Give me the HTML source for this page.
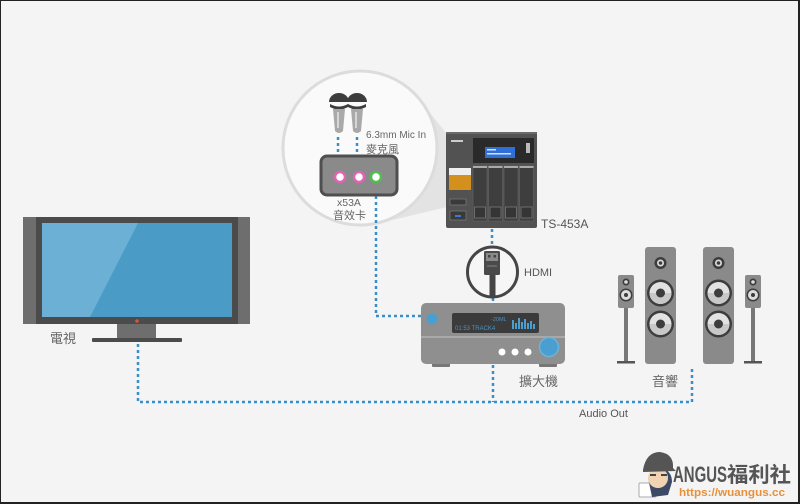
<!DOCTYPE html>
<html><head><meta charset="utf-8"><style>
html,body{margin:0;padding:0;background:#f4f4f4;}
svg{display:block;}
text{font-family:"Liberation Sans","Noto Sans CJK TC",sans-serif;}
</style></head><body>
<svg width="800" height="504" viewBox="0 0 800 504" xmlns="http://www.w3.org/2000/svg">
<rect x="0" y="0" width="800" height="504" fill="#f4f4f4"/>

<!-- lens wedge + circle -->
<polygon points="426,108 447,134 447,207 384,222" fill="#e3e3e3"/>
<circle cx="360" cy="148" r="77" fill="#fafafa" stroke="#dcdcdc" stroke-width="3"/>

<!-- dotted connectors -->
<g fill="none" stroke="#3a8fc6" stroke-width="2.5" stroke-dasharray="3 3">
  <path d="M138 344 V402 H692 V366"/>
  <path d="M493 365 V402"/>
  <path d="M376 184 V316 H426"/>
  <path d="M338 137 V157"/>
  <path d="M357 137 V157"/>
  <path d="M492 229 V246"/>
  <path d="M493 298 V303"/>
</g>

<!-- microphones -->
<g>
  <path d="M329 102 A10 9 0 0 1 349 102 Z" fill="#3d3d3d"/>
  <path d="M330 104 Q339 109 348 104 L348 107 Q339 112 330 107 Z" fill="#3d3d3d"/>
  <path d="M333 109 L345 109 L343 131 Q339 135 335 131 Z" fill="#a9a9a9"/>
  <rect x="337" y="112" width="2" height="16" fill="#d6d6d6"/>
  <path d="M347 102 A10 9 0 0 1 367 102 Z" fill="#3d3d3d"/>
  <path d="M348 104 Q357 109 366 104 L366 107 Q357 112 348 107 Z" fill="#3d3d3d"/>
  <path d="M351 109 L363 109 L361 131 Q357 135 353 131 Z" fill="#a9a9a9"/>
  <rect x="355" y="112" width="2" height="16" fill="#d6d6d6"/>
</g>

<!-- sound card -->
<rect x="321" y="156" width="76" height="39" rx="6" fill="#8a8a8a" stroke="#4f4f4f" stroke-width="3"/>
<circle cx="340" cy="177" r="5" fill="#fff" stroke="#e063b6" stroke-width="2.5"/>
<circle cx="359" cy="177" r="5" fill="#fff" stroke="#e063b6" stroke-width="2.5"/>
<circle cx="376" cy="177" r="5" fill="#fff" stroke="#4fc04f" stroke-width="2.5"/>

<text x="366" y="138" font-size="10" fill="#666">6.3mm Mic In</text>
<text x="366" y="153" font-size="11" fill="#666">麥克風</text>
<text x="337" y="206" font-size="10.5" fill="#666">x53A</text>
<text x="333" y="219" font-size="11" fill="#666">音效卡</text>

<!-- NAS -->
<rect x="446" y="132" width="91" height="96" rx="2" fill="#525252"/>
<rect x="446" y="132" width="91" height="2" fill="#6a6a6a"/>
<rect x="451" y="140" width="12" height="2" fill="#ccc"/>
<rect x="473" y="138" width="61" height="25" fill="#2a2a2a"/>
<rect x="485" y="147" width="30" height="11" fill="#2f6fd6"/>
<rect x="487" y="149" width="9" height="1.5" fill="#cfe0ff"/>
<rect x="487" y="153" width="24" height="1.5" fill="#cfe0ff"/>
<rect x="526" y="143" width="4" height="10" fill="#bbb"/>
<rect x="449" y="168" width="22" height="7" fill="#eee"/>
<rect x="449" y="175" width="22" height="15" fill="#d4901c"/>
<rect x="450" y="199" width="16" height="6" fill="#3a3a3a" stroke="#777" stroke-width="0.8"/>
<rect x="450" y="211" width="16" height="9" fill="#3a3a3a" stroke="#777" stroke-width="0.8"/>
<rect x="455" y="215" width="6" height="2" fill="#3a7ad0"/>
<g>
  <rect x="473" y="166" width="14" height="55" fill="#3e3e3e" stroke="#5e5e5e" stroke-width="0.8"/>
  <rect x="473" y="166" width="14" height="2" fill="#aaa"/>
  <rect x="474.5" y="207" width="11" height="11" fill="#353535" stroke="#7a7a7a" stroke-width="0.8"/>
  <rect x="488.5" y="166" width="14" height="55" fill="#3e3e3e" stroke="#5e5e5e" stroke-width="0.8"/>
  <rect x="488.5" y="166" width="14" height="2" fill="#aaa"/>
  <rect x="490" y="207" width="11" height="11" fill="#353535" stroke="#7a7a7a" stroke-width="0.8"/>
  <rect x="504" y="166" width="14" height="55" fill="#3e3e3e" stroke="#5e5e5e" stroke-width="0.8"/>
  <rect x="504" y="166" width="14" height="2" fill="#aaa"/>
  <rect x="505.5" y="207" width="11" height="11" fill="#353535" stroke="#7a7a7a" stroke-width="0.8"/>
  <rect x="519.5" y="166" width="14" height="55" fill="#3e3e3e" stroke="#5e5e5e" stroke-width="0.8"/>
  <rect x="519.5" y="166" width="14" height="2" fill="#aaa"/>
  <rect x="521" y="207" width="11" height="11" fill="#353535" stroke="#7a7a7a" stroke-width="0.8"/>
</g>
<text x="541" y="228" font-size="12" fill="#555">TS-453A</text>

<!-- HDMI -->
<circle cx="492.5" cy="272" r="25" fill="#f6f6f6" stroke="#454545" stroke-width="3"/>
<rect x="489.5" y="273" width="6" height="25" fill="#454545"/>
<rect x="484" y="251" width="16" height="24" rx="1.5" fill="#4a4a4a"/>
<rect x="486" y="253" width="12" height="8" fill="#8a8a8a"/>
<rect x="488" y="255" width="2.5" height="2.5" fill="#444"/>
<rect x="493.5" y="255" width="2.5" height="2.5" fill="#444"/>
<rect x="487" y="265" width="10" height="2" fill="#666"/>
<text x="524" y="276" font-size="11" fill="#555">HDMI</text>

<!-- receiver -->
<rect x="432" y="362" width="18" height="5" rx="1" fill="#777"/>
<rect x="539" y="362" width="18" height="5" rx="1" fill="#777"/>
<rect x="421" y="303" width="144" height="61" rx="5" fill="#8f8f8f"/>
<rect x="421" y="336" width="144" height="2" fill="#a9a9a9"/>
<circle cx="432" cy="319" r="5.5" fill="#4a9fd0"/>
<rect x="452" y="313" width="87" height="20" rx="2" fill="#3b3b3b"/>
<text x="491" y="321" font-size="5.5" fill="#4a93c6" font-family="Liberation Mono, monospace">-20ML</text>
<text x="455" y="330" font-size="6" fill="#4a93c6" font-family="Liberation Mono, monospace">01:53 TRACK4</text>
<g fill="#4a9fd0">
  <rect x="512" y="320" width="2" height="9"/><rect x="515" y="323" width="2" height="6"/>
  <rect x="518" y="318" width="2" height="11"/><rect x="521" y="322" width="2" height="7"/>
  <rect x="524" y="319" width="2" height="10"/><rect x="527" y="323" width="2" height="6"/>
  <rect x="530" y="321" width="2" height="8"/><rect x="533" y="324" width="2" height="5"/>
</g>
<circle cx="502" cy="352" r="3.5" fill="#fff"/>
<circle cx="515" cy="352" r="3.5" fill="#fff"/>
<circle cx="528" cy="352" r="3.5" fill="#fff"/>
<circle cx="549" cy="347" r="9.5" fill="#4a9fd0" stroke="#6bb3dc" stroke-width="1.5"/>
<text x="519" y="386" font-size="13" fill="#666">擴大機</text>

<!-- speakers -->
<g>
  <rect x="624" y="307" width="4" height="55" fill="#777"/>
  <rect x="617" y="361" width="18" height="2.5" fill="#555"/>
  <rect x="618" y="275" width="16" height="33" rx="2" fill="#8a8a8a"/>
  <circle cx="626" cy="282" r="3.5" fill="#3d3d3d"/><circle cx="626" cy="282" r="1.8" fill="#ddd"/>
  <circle cx="626" cy="295" r="6.5" fill="#3d3d3d"/><circle cx="626" cy="295" r="5" fill="#ddd"/><circle cx="626" cy="295" r="2" fill="#3d3d3d"/>

  <rect x="751" y="307" width="4" height="55" fill="#777"/>
  <rect x="744" y="361" width="18" height="2.5" fill="#555"/>
  <rect x="745" y="275" width="16" height="33" rx="2" fill="#8a8a8a"/>
  <circle cx="753" cy="282" r="3.5" fill="#3d3d3d"/><circle cx="753" cy="282" r="1.8" fill="#ddd"/>
  <circle cx="753" cy="295" r="6.5" fill="#3d3d3d"/><circle cx="753" cy="295" r="5" fill="#ddd"/><circle cx="753" cy="295" r="2" fill="#3d3d3d"/>

  <rect x="645" y="247" width="31" height="117" rx="3" fill="#8a8a8a"/>
  <circle cx="660.5" cy="263" r="6" fill="#3d3d3d"/><circle cx="660.5" cy="263" r="3.5" fill="#ddd"/><circle cx="660.5" cy="263" r="1.8" fill="#3d3d3d"/>
  <circle cx="660.5" cy="293" r="13.5" fill="#3d3d3d"/><circle cx="660.5" cy="293" r="11" fill="#e2e2e2"/><path d="M649.5 293 A11 11 0 0 0 671.5 293 Z" fill="#c8c8c8"/><circle cx="660.5" cy="293" r="4.5" fill="#3d3d3d"/>
  <circle cx="660.5" cy="324" r="13.5" fill="#3d3d3d"/><circle cx="660.5" cy="324" r="11" fill="#e2e2e2"/><path d="M649.5 324 A11 11 0 0 0 671.5 324 Z" fill="#c8c8c8"/><circle cx="660.5" cy="324" r="4.5" fill="#3d3d3d"/>

  <rect x="703" y="247" width="31" height="117" rx="3" fill="#8a8a8a"/>
  <circle cx="718.5" cy="263" r="6" fill="#3d3d3d"/><circle cx="718.5" cy="263" r="3.5" fill="#ddd"/><circle cx="718.5" cy="263" r="1.8" fill="#3d3d3d"/>
  <circle cx="718.5" cy="293" r="13.5" fill="#3d3d3d"/><circle cx="718.5" cy="293" r="11" fill="#e2e2e2"/><path d="M707.5 293 A11 11 0 0 0 729.5 293 Z" fill="#c8c8c8"/><circle cx="718.5" cy="293" r="4.5" fill="#3d3d3d"/>
  <circle cx="718.5" cy="324" r="13.5" fill="#3d3d3d"/><circle cx="718.5" cy="324" r="11" fill="#e2e2e2"/><path d="M707.5 324 A11 11 0 0 0 729.5 324 Z" fill="#c8c8c8"/><circle cx="718.5" cy="324" r="4.5" fill="#3d3d3d"/>
</g>
<text x="652" y="386" font-size="13" fill="#666">音響</text>
<text x="579" y="417" font-size="11" fill="#555">Audio Out</text>

<!-- TV -->
<rect x="23" y="217" width="227" height="107" fill="#6e6e6e"/>
<rect x="36" y="217" width="202" height="107" fill="#4b4b4b"/>
<rect x="42" y="223" width="190" height="94" fill="#4a9cc7"/>
<polygon points="42,223 138,223 90,317 42,317" fill="#6db0d6"/>
<circle cx="137" cy="321" r="1.8" fill="#d0563f"/>
<rect x="117" y="324" width="39" height="14" fill="#6e6e6e"/>
<rect x="92" y="338" width="90" height="4" rx="1" fill="#4b4b4b"/>
<text x="50" y="343" font-size="13" fill="#666">電視</text>

<!-- logo -->
<g>
  <rect x="639" y="483" width="17" height="14" rx="1" fill="#fff" stroke="#aaa" stroke-width="1"/>
  <path d="M648 478 Q650 468 660 468 Q672 470 672 482 L668 495 L652 497 Z" fill="#3d4a66"/>
  <circle cx="658" cy="478" r="10" fill="#f1d3b3"/>
  <path d="M643 470 Q646 452 660 452 Q674 454 673 468 L676 471 L643 472 Z" fill="#555"/>
  <rect x="650" y="474" width="6" height="2" fill="#444"/>
  <rect x="661" y="474" width="6" height="2" fill="#444"/>
  <text x="673" y="482" font-size="22" font-weight="bold" fill="#555" textLength="54" lengthAdjust="spacingAndGlyphs">ANGUS</text>
  <text x="727" y="482" font-size="21" font-weight="bold" fill="#555" textLength="64" lengthAdjust="spacingAndGlyphs">福利社</text>
  <text x="679" y="496" font-size="11" font-weight="bold" fill="#e8903a" font-family="Liberation Mono, monospace" textLength="106" lengthAdjust="spacingAndGlyphs">https://wuangus.cc</text>
</g>

<!-- frame border -->
<rect x="0" y="0" width="800" height="1" fill="#222"/>
<rect x="0" y="0" width="1" height="504" fill="#222"/>
<rect x="798" y="0" width="2" height="504" fill="#222"/>
<rect x="0" y="502" width="800" height="2" fill="#222"/>
</svg>
</body></html>
